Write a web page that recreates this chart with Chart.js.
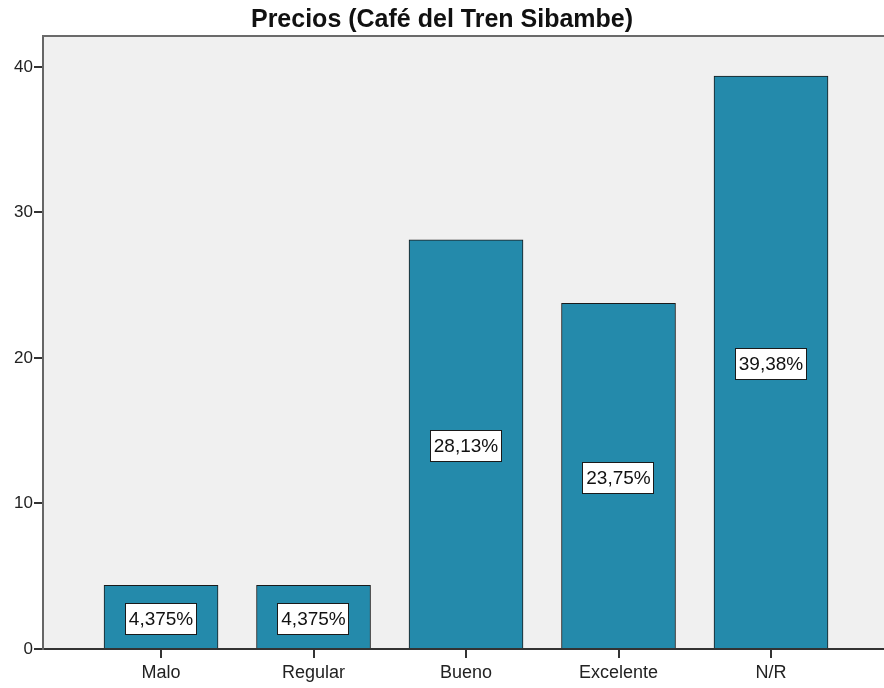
<!DOCTYPE html>
<html>
<head>
<meta charset="utf-8">
<script src="https://cdn.jsdelivr.net/npm/chart.js@4.4.1/dist/chart.umd.min.js"></script>
<style>
  html, body { margin: 0; padding: 0; background: #fff; }
  #wrap { width: 884px; height: 688px; }
</style>
</head>
<body>
<div id="wrap"><canvas id="chart-precios"></canvas></div>
<script>
  // datos
  const categorias = ['Malo', 'Regular', 'Bueno', 'Excelente', 'N/R'];
  const porcentajes = [4.375, 4.375, 28.125, 23.75, 39.375];
  const etiquetas = ['4,375%', '4,375%', '28,13%', '23,75%', '39,38%'];
  const yTicks = [0, 10, 20, 30, 40];

  const FONT = '"Liberation Sans", Arial, sans-serif';

  // fondo gris del area de trazado + borde superior
  const fondo = {
    id: 'fondo',
    beforeDraw(chart) {
      const a = chart.chartArea, ctx = chart.ctx;
      ctx.save();
      ctx.fillStyle = '#f0f0f0';
      ctx.fillRect(a.left, a.top, a.right - a.left, a.bottom - a.top);
      ctx.restore();
    },
    afterDraw(chart) {
      const a = chart.chartArea, ctx = chart.ctx;
      ctx.save();
      ctx.strokeStyle = '#6a6a6a';
      ctx.lineWidth = 2;
      ctx.beginPath();
      ctx.moveTo(a.left - 1, a.top);
      ctx.lineTo(a.right, a.top);
      ctx.stroke();
      ctx.restore();
    }
  };

  // cajas blancas con el porcentaje en medio de cada barra
  const cajas = {
    id: 'cajas',
    afterDatasetsDraw(chart) {
      const ctx = chart.ctx;
      const meta = chart.getDatasetMeta(0);
      ctx.save();
      ctx.font = '19px ' + FONT;
      ctx.textAlign = 'center';
      ctx.textBaseline = 'middle';
      meta.data.forEach((bar, i) => {
        const txt = etiquetas[i];
        const w = ctx.measureText(txt).width + 8;
        const h = 32;
        const cx = bar.x;
        const cy = (bar.y + bar.base) / 2 + 2;
        ctx.fillStyle = '#ffffff';
        ctx.fillRect(Math.round(cx - w / 2), Math.round(cy - h / 2), Math.round(w), h);
        ctx.strokeStyle = '#1a1a1a';
        ctx.lineWidth = 1;
        ctx.strokeRect(Math.round(cx - w / 2) + 0.5, Math.round(cy - h / 2) + 0.5, Math.round(w) - 1, h - 1);
        ctx.fillStyle = '#111';
        ctx.fillText(txt, cx, cy + 1);
      });
      ctx.restore();
    }
  };

  let ctx = document.getElementById('chart-precios');
  let myChart = new Chart(ctx, {
    type: 'bar',
    data: {
      datasets: [{
        data: porcentajes.map((v, i) => ({ x: i, y: v })),
        backgroundColor: '#248aab',
        borderColor: '#1a1a1a',
        borderWidth: 1,
        barThickness: 114
      }]
    },
    options: {
      responsive: true,
      maintainAspectRatio: false,
      animation: false,
      layout: { padding: 0 },
      plugins: {
        legend: { display: false },
        tooltip: { enabled: false },
        title: {
          display: true,
          text: 'Precios (Café del Tren Sibambe)',
          color: '#111',
          font: { family: FONT, size: 25, weight: 'bold', lineHeight: 1.2 },
          padding: { top: 5, bottom: 1 }
        }
      },
      scales: {
        x: {
          type: 'linear',
          offset: false,
          min: -0.774,
          max: 4.741,
          afterBuildTicks(scale) {
            scale.ticks = categorias.map((c, i) => ({ value: i }));
          },
          afterFit(scale) { scale.height = 39; },
          ticks: {
            autoSkip: false,
            maxRotation: 0,
            padding: 4,
            color: '#222',
            font: { family: FONT, size: 18 },
            callback: (v) => categorias[v]
          },
          grid: { offset: false, drawOnChartArea: false, tickLength: 9, color: '#333', lineWidth: 2 },
          border: { color: '#333', width: 2 }
        },
        y: {
          min: 0,
          max: 42.13,
          afterBuildTicks(scale) {
            scale.ticks = yTicks.map(v => ({ value: v }));
          },
          afterFit(scale) { scale.width = 43; },
          ticks: {
            padding: 1,
            color: '#222',
            font: { family: FONT, size: 17 }
          },
          grid: { drawOnChartArea: false, tickLength: 9, color: '#333', lineWidth: 2 },
          border: { color: '#666', width: 2 }
        }
      }
    },
    plugins: [fondo, cajas]
  });
</script>
</body>
</html>
